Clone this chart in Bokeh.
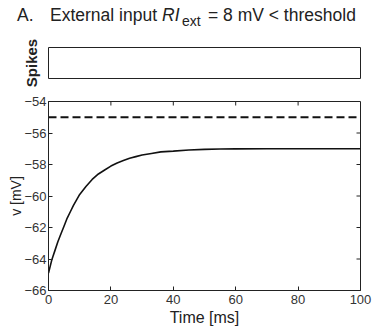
import math
from bokeh.plotting import figure
from bokeh.layouts import column
from bokeh.models import Div, FixedTicker, Range1d
from bokeh.embed import file_html
from bokeh.resources import INLINE

# ---- data ----
time_ms = [0, 0.5, 1, 1.5, 2, 3, 4, 5, 6, 7, 8, 9, 10, 12, 14, 16, 18, 20, 22,
           24, 26, 28, 30, 33, 36, 40, 45, 50, 55, 60, 70, 80, 90, 100]
v_mV = [-64.9, -64.5, -64.1, -63.8, -63.5, -62.9, -62.4, -61.9, -61.4, -61.0,
        -60.6, -60.25, -59.9, -59.4, -58.95, -58.6, -58.35, -58.1, -57.9,
        -57.75, -57.6, -57.5, -57.4, -57.3, -57.2, -57.15, -57.08, -57.04,
        -57.02, -57.01, -57.0, -57.0, -57.0, -57.0]
threshold_t = [0, 100]
threshold_v = [-55, -55]
x_ticks = [0, 20, 40, 60, 80, 100]
y_ticks = [-66, -64, -62, -60, -58, -56, -54]
x_min, x_max = 0, 100
y_min, y_max = -66, -54

FONT = "Liberation Sans"
TXT = "#333333"
INK = "#222222"
W = 373
L, R = 48, 13

# ---- title strip (HTML text, absolutely positioned pieces) ----
HT = 30
def span(text, left, top, size, style="normal"):
    return (f'<span style="position:absolute;left:{left}px;top:{top}px;'
            f'font-size:{size}px;font-style:{style};line-height:1;'
            f'white-space:nowrap;">{text}</span>')

title_html = (
    f'<div style="position:relative;width:{W}px;height:{HT}px;'
    f'font-family:\'{FONT}\';color:{INK};">'
    + span("A.", 17, 7, 17.5)
    + span("External input", 50, 7, 17.5)
    + span("RI", 162, 7, 17.5, "italic")
    + span("ext", 182, 13.5, 14)
    + span("= 8 mV &lt; threshold", 208, 7, 17.5)
    + '</div>'
)
p0 = Div(text=title_html, width=W, height=HT, margin=(0, 0, 0, 0))

# ---- spikes panel ----
T1, FH1, B1 = 17, 31, 14
H1 = T1 + FH1 + B1
p1 = figure(width=W, height=H1, output_backend="svg", toolbar_location=None,
            x_range=Range1d(x_min, x_max), y_range=Range1d(0, 1),
            x_axis_location=None,
            min_border_left=L, min_border_right=R, min_border_top=T1,
            min_border_bottom=B1)
p1.grid.visible = False
p1.outline_line_color = INK
ya = p1.yaxis[0]
ya.ticker = FixedTicker(ticks=[])
ya.axis_line_color = None
ya.major_tick_line_color = None
ya.minor_tick_line_color = None
ya.axis_label = "Spikes"
ya.axis_label_text_font = FONT
ya.axis_label_text_font_size = "15px"
ya.axis_label_text_font_style = "bold"
ya.axis_label_text_color = INK
ya.axis_label_standoff = 9

# ---- voltage panel ----
T2, B2 = 9, 38
H2 = 328 - HT - H1
FH2 = H2 - T2 - B2
FW = W - L - R
p2 = figure(width=W, height=H2, output_backend="svg", toolbar_location=None,
            x_range=Range1d(x_min, x_max), y_range=Range1d(y_min, y_max),
            min_border_left=L, min_border_right=R, min_border_top=T2,
            min_border_bottom=B2)
p2.grid.visible = False
p2.outline_line_color = INK

p2.line(time_ms, v_mV, line_color="#111111", line_width=1.6)
p2.line(threshold_t, threshold_v, line_color="#111111", line_width=1.8, line_dash="8 4")

# inward ticks on the top and right edges (MATLAB box style)
tick_px = 4
dyt = tick_px * (y_max - y_min) / FH2
dxt = tick_px * (x_max - x_min) / FW
inner_x = x_ticks[1:-1]
inner_y = y_ticks[1:-1]
p2.segment(x0=inner_x, y0=[y_max] * len(inner_x), x1=inner_x,
           y1=[y_max - dyt] * len(inner_x), line_color=INK, line_width=1)
p2.segment(x0=[x_max] * len(inner_y), y0=inner_y, x1=[x_max - dxt] * len(inner_y),
           y1=inner_y, line_color=INK, line_width=1)

p2.xaxis[0].ticker = FixedTicker(ticks=x_ticks)
p2.yaxis[0].ticker = FixedTicker(ticks=y_ticks)
for ax in p2.axis:
    ax.major_tick_in = tick_px
    ax.major_tick_out = 0
    ax.minor_tick_line_color = None
    ax.axis_line_color = INK
    ax.major_tick_line_color = INK
    ax.major_label_text_font = FONT
    ax.major_label_text_font_size = "13px"
    ax.major_label_text_color = TXT
    ax.axis_label_text_font = FONT
    ax.axis_label_text_font_style = "normal"
    ax.axis_label_text_color = INK

p2.xaxis[0].major_label_standoff = 4
p2.yaxis[0].major_label_standoff = 2
p2.xaxis[0].axis_label = "Time [ms]"
p2.xaxis[0].axis_label_text_font_size = "16px"
p2.xaxis[0].axis_label_standoff = 2
p2.yaxis[0].axis_label = "v [mV]"
p2.yaxis[0].axis_label_text_font_size = "14px"
p2.yaxis[0].axis_label_standoff = -3

layout = column(p0, p1, p2, spacing=0)
open("out.html", "w").write(file_html(layout, INLINE))
